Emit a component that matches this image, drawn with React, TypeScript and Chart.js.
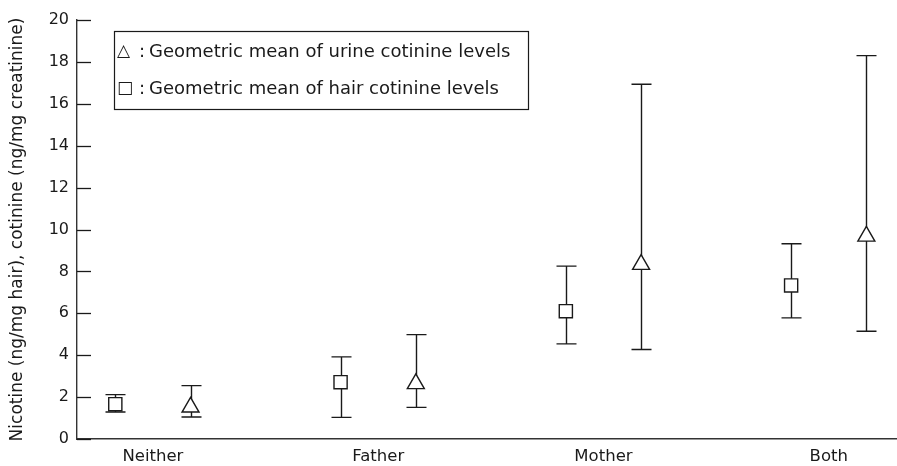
import React, { useEffect, useRef } from "react";
import { Chart, registerables } from "chart.js";

Chart.register(...registerables);

const categories = ["Neither", "Father", "Mother", "Both"];
const hairMean = [1.66, 2.71, 6.1, 7.33];
const hairLow = [1.29, 1.03, 4.54, 5.78];
const hairHigh = [2.12, 3.92, 8.25, 9.32];
const urineMean = [1.52, 2.64, 8.33, 9.68];
const urineLow = [1.05, 1.51, 4.27, 5.14];
const urineHigh = [2.55, 4.98, 16.93, 18.3];
const yTicks = [0, 2, 4, 6, 8, 10, 12, 14, 16, 18, 20];
const yTitle = "Nicotine (ng/mg hair), cotinine (ng/mg creatinine)";
const legendSymbols = ["\u25B3", "\u25A1"];
const legendTexts = [
  "Geometric mean of urine cotinine levels",
  "Geometric mean of hair cotinine levels",
];

const FONT = "'DejaVu Sans', sans-serif";
const OFF = 0.167;
const INK = "#1a1a1a";

const errorBars = {
  id: "errorBars",
  beforeDatasetsDraw(chart: any) {
    const { ctx } = chart;
    const xs = chart.scales.x;
    const ys = chart.scales.y;
    const sets = [
      { lo: hairLow, hi: hairHigh, d: -OFF },
      { lo: urineLow, hi: urineHigh, d: OFF },
    ];
    ctx.save();
    ctx.strokeStyle = INK;
    ctx.lineWidth = 1.4;
    sets.forEach((s) => {
      s.lo.forEach((lo, i) => {
        const px = Math.round(xs.getPixelForValue(i + s.d)) + 0.5;
        const pLo = ys.getPixelForValue(lo);
        const pHi = ys.getPixelForValue(s.hi[i]);
        ctx.beginPath();
        ctx.moveTo(px, pLo);
        ctx.lineTo(px, pHi);
        ctx.moveTo(px - 10, pLo);
        ctx.lineTo(px + 10, pLo);
        ctx.moveTo(px - 10, pHi);
        ctx.lineTo(px + 10, pHi);
        ctx.stroke();
      });
    });
    ctx.restore();
  },
  afterDraw(chart: any) {
    const { ctx } = chart;
    const ys = chart.scales.y;
    const left = chart.chartArea.left;
    ctx.save();
    ctx.strokeStyle = INK;
    ctx.lineWidth = 1.3;
    yTicks.forEach((t) => {
      const py = Math.round(ys.getPixelForValue(t)) + 0.5;
      ctx.beginPath();
      ctx.moveTo(left, py);
      ctx.lineTo(left + 14, py);
      ctx.stroke();
    });
    // legend box
    ctx.lineWidth = 1.2;
    ctx.strokeRect(114.5, 31.5, 414, 78);
    ctx.fillStyle = INK;
    ctx.textBaseline = "middle";
    ctx.textAlign = "left";
    const rows = [52, 89];
    rows.forEach((y, k) => {
      ctx.font = `17px ${FONT}`;
      ctx.fillText(legendSymbols[k], 117, y);
      ctx.font = `18px ${FONT}`;
      ctx.fillText(":", 139, y);
      ctx.fillText(legendTexts[k], 149, y);
    });
    ctx.restore();
  },
};

export default function App() {
  const ref = useRef<HTMLCanvasElement>(null);
  useEffect(() => {
    document.body.style.margin = "0";
    document.body.style.overflow = "hidden";
    const chart = new Chart(ref.current as HTMLCanvasElement, {
      type: "scatter",
      data: {
        datasets: [
          {
            data: hairMean.map((v, i) => ({ x: i - OFF, y: v })),
            pointStyle: "rect",
            pointRadius: 9.3,
            backgroundColor: "#ffffff",
            borderColor: INK,
            borderWidth: 1.4,
          },
          {
            data: urineMean.map((v, i) => ({ x: i + OFF, y: v })),
            pointStyle: "triangle",
            pointRadius: 9.8,
            backgroundColor: "#ffffff",
            borderColor: INK,
            borderWidth: 1.4,
          },
        ],
      },
      options: {
        animation: false,
        responsive: false,
        events: [],
        layout: { autoPadding: false, padding: { top: 20, left: 0, right: 0, bottom: 0 } },
        plugins: { legend: { display: false }, tooltip: { enabled: false } },
        scales: {
          x: {
            type: "linear",
            min: -0.337,
            max: 3.303,
            afterBuildTicks: (s: any) => {
              s.ticks = categories.map((_, i) => ({ value: i }));
            },
            afterFit: (s: any) => {
              s.height = 27;
              s.paddingLeft = 0;
              s.paddingRight = 0;
            },
            ticks: {
              autoSkip: false,
              maxRotation: 0,
              padding: 0,
              color: INK,
              font: { size: 16.5, family: FONT },
              callback: (_v: any, i: number) => categories[i],
            },
            grid: { display: false },
            border: { color: "#333", width: 1.4 },
          },
          y: {
            min: 0,
            max: 20,
            afterBuildTicks: (s: any) => {
              s.ticks = yTicks.map((v) => ({ value: v }));
            },
            afterFit: (s: any) => {
              s.width = 77;
            },
            ticks: {
              padding: 8,
              color: INK,
              font: { size: 16, family: FONT },
            },
            grid: { display: false, drawTicks: false },
            border: { color: "#333", width: 1.4 },
            title: {
              display: true,
              text: yTitle,
              color: INK,
              font: { size: 17, family: FONT },
              padding: { top: 7, bottom: 0 },
            },
          },
        },
      },
      plugins: [errorBars],
    } as any);
    return () => chart.destroy();
  }, []);
  return (
    <div style={{ width: 897, height: 466, overflow: "hidden" }}>
      <canvas ref={ref} width={897} height={466} style={{ display: "block" }} />
    </div>
  );
}
